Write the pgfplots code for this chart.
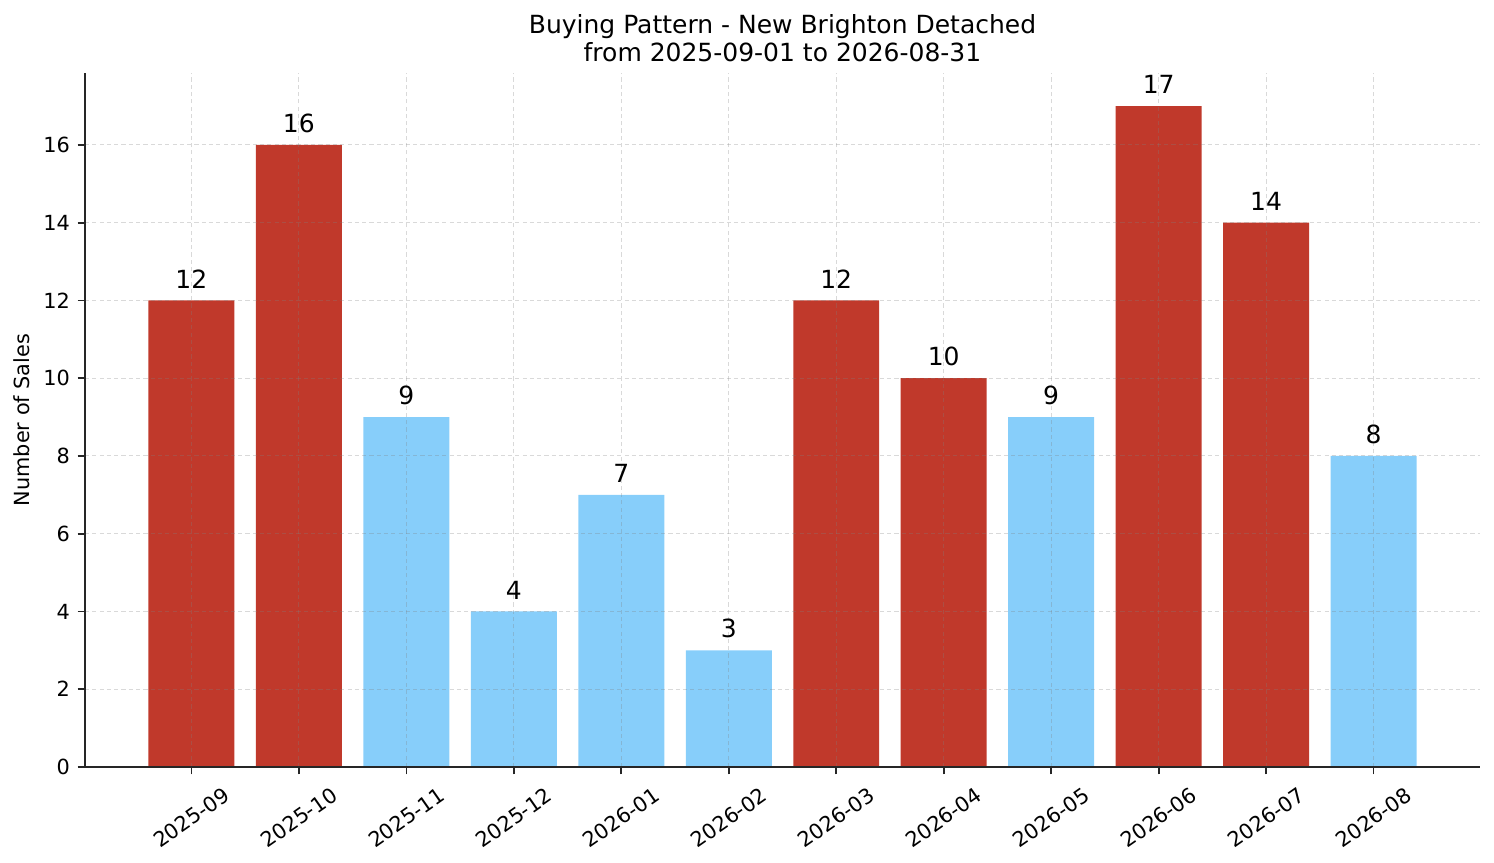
\documentclass[border=0pt]{standalone}
\usepackage{fontspec}
\setmainfont{DejaVu Sans}
\usepackage{pgfplots}
\pgfplotsset{compat=1.18}

\definecolor{barred}{HTML}{C0392B}
\definecolor{barblue}{HTML}{87CEFA}
\definecolor{spine}{HTML}{262626}

\begin{document}
\begin{tikzpicture}
\useasboundingbox (0,0) rectangle (717.12pt,414.24pt);
\begin{axis}[
    at={(40.8pt,46.08pt)}, anchor=south west,
    scale only axis,
    width=669.6pt, height=333.1pt,
    xmin=-0.99, xmax=11.99,
    ymin=0, ymax=17.85,
    axis lines*=left,
    axis line style={-, spine, line width=0.8pt},
    axis on top,
    tick align=outside,
    major tick length=3.5pt,
    every tick/.style={spine, line width=0.8pt},
    xtick={0,1,...,11},
    xticklabels={2025-09,2025-10,2025-11,2025-12,2026-01,2026-02,2026-03,2026-04,2026-05,2026-06,2026-07,2026-08},
    ytick={0,2,...,16},
    tick label style={font=\fontsize{10}{12}\selectfont},
    /pgf/number format/assume math mode=true,
    xticklabel style={yshift=-20.8pt, rotate=35, anchor=center},
    yticklabel style={inner sep=0pt, xshift=-3.5pt},
    grid=major,
    grid style={dash pattern=on 2pt off 1.5pt, gray, opacity=0.3, line width=0.5pt},
    ylabel={Number of Sales},
    ylabel style={at={(axis description cs:-0.045,0.5)}, anchor=center, font=\fontsize{10}{12}\selectfont},
    title={Buying Pattern - New Brighton Detached\\from 2025-09-01 to 2026-08-31},
    title style={at={(0.5,1)}, anchor=south, yshift=-4pt, align=center, font=\fontsize{12}{13.5}\selectfont},
    nodes near coords,
    every node near coord/.append style={font=\fontsize{12}{14}\selectfont, anchor=south, inner sep=0pt, yshift=5.6pt, black},
]
\addplot[ybar, bar width=0.8, bar shift=0pt, fill=barred, draw=none] coordinates {
    (0,12) (1,16) (6,12) (7,10) (9,17) (10,14)
};
\addplot[ybar, bar width=0.8, bar shift=0pt, fill=barblue, draw=none] coordinates {
    (2,9) (3,4) (4,7) (5,3) (8,9) (11,8)
};
\end{axis}
\end{tikzpicture}
\end{document}
